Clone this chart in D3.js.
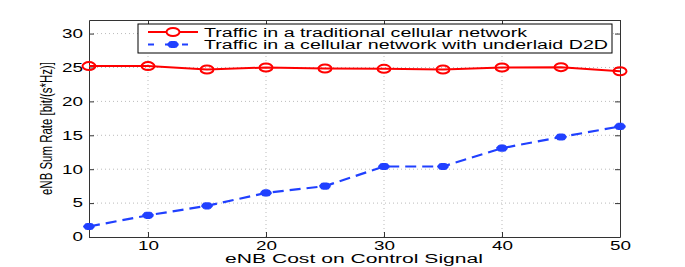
<!DOCTYPE html>
<html>
<head>
<meta charset="utf-8">
<script src="https://cdn.jsdelivr.net/npm/d3@7"></script>
<style>
  body { margin: 0; background: #fff; }
  text { font-family: "Liberation Sans", Arial, sans-serif; fill: #000; }
</style>
</head>
<body>
<svg id="chart" width="685" height="267"></svg>
<script>
var costs = [5, 10, 15, 20, 25, 30, 35, 40, 45, 50];
var traditional = [25.2, 25.2, 24.7, 25.0, 24.85, 24.8, 24.7, 25.0, 25.05, 24.45];
var underlaid = [1.55, 3.2, 4.6, 6.5, 7.5, 10.4, 10.4, 13.1, 14.75, 16.3];
var xTicks = [10, 20, 30, 40, 50];
var yTicks = [0, 5, 10, 15, 20, 25, 30];
var seriesNames = ['Traffic in a traditional cellular network',
                   'Traffic in a cellular network with underlaid D2D'];

var svg = d3.select('#chart');
// plot box (window.top is read-only, so own names)
var pLeft = 89, pRight = 620, pTop = 20, pBottom = 237;

var x = d3.scaleLinear().domain([5, 50]).range([pLeft, pRight]);
var y = d3.scaleLinear().domain([0, 32]).range([pBottom, pTop]);

// grid (dotted)
svg.append('g')
  .selectAll('line')
  .data(xTicks.filter(d => d < 50))
  .enter().append('line')
    .attr('x1', d => x(d)).attr('x2', d => x(d))
    .attr('y1', pTop).attr('y2', pBottom)
    .attr('stroke', '#bbb').attr('stroke-dasharray', '1,3');
svg.append('g')
  .selectAll('line')
  .data(yTicks.filter(d => d > 0))
  .enter().append('line')
    .attr('x1', pLeft).attr('x2', pRight)
    .attr('y1', d => y(d)).attr('y2', d => y(d))
    .attr('stroke', '#bbb').attr('stroke-dasharray', '1,3');

// axes with inward ticks
svg.append('g')
  .attr('transform', `translate(0,${pBottom})`)
  .call(d3.axisBottom(x).tickValues(xTicks).tickSizeInner(-5).tickSizeOuter(0).tickPadding(4));
svg.append('g')
  .attr('transform', `translate(0,${pTop})`)
  .call(d3.axisTop(x).tickValues(xTicks).tickSizeInner(-5).tickSizeOuter(0).tickFormat(''));
svg.append('g')
  .attr('transform', `translate(${pLeft},0)`)
  .call(d3.axisLeft(y).tickValues(yTicks).tickSizeInner(-5).tickSizeOuter(0).tickPadding(6));
svg.append('g')
  .attr('transform', `translate(${pRight},0)`)
  .call(d3.axisRight(y).tickValues(yTicks).tickSizeInner(-5).tickSizeOuter(0).tickFormat(''));

svg.selectAll('.domain').attr('stroke', '#333').attr('stroke-width', 1);
svg.selectAll('.tick line').attr('stroke', '#333');
svg.selectAll('.tick text')
  .style('font-size', '12px')
  .attr('fill', '#000')
  .attr('textLength', function() { return this.textContent.length * 10.5; })
  .attr('lengthAdjust', 'spacingAndGlyphs');

// axis labels
svg.append('text')
  .attr('x', 354)
  .attr('y', 262.5)
  .attr('text-anchor', 'middle')
  .style('font-size', '12.5px')
  .attr('textLength', 258).attr('lengthAdjust', 'spacingAndGlyphs')
  .text('eNB Cost on Control Signal');

svg.append('text')
  .attr('transform', 'translate(52,128.5) rotate(-90)')
  .attr('text-anchor', 'middle')
  .style('font-size', '16px')
  .attr('textLength', 133).attr('lengthAdjust', 'spacingAndGlyphs')
  .text('eNB Sum Rate [bit/(s*Hz)]');

var line = d3.line().x((d, i) => x(costs[i])).y(d => y(d));

// red series
svg.append('path')
  .datum(traditional)
  .attr('d', line)
  .attr('fill', 'none').attr('stroke', '#f00').attr('stroke-width', 2);
svg.append('g')
  .selectAll('ellipse')
  .data(traditional)
  .enter().append('ellipse')
    .attr('cx', (d, i) => x(costs[i])).attr('cy', d => y(d))
    .attr('rx', 6.5).attr('ry', 4)
    .attr('fill', 'none').attr('stroke', '#f00').attr('stroke-width', 2);

// blue series
var blue = '#2040ff';
svg.append('path')
  .datum(underlaid)
  .attr('d', line)
  .attr('fill', 'none').attr('stroke', blue).attr('stroke-width', 2.2)
  .attr('stroke-dasharray', '11,6');
var star = d3.symbol().type(d3.symbolAsterisk).size(50);
svg.append('g')
  .selectAll('path')
  .data(underlaid)
  .enter().append('path')
    .attr('d', star)
    .attr('transform', (d, i) => `translate(${x(costs[i])},${y(d)}) scale(1.3,0.85)`)
    .attr('fill', 'none').attr('stroke', blue).attr('stroke-width', 4);

// legend
var lg = svg.append('g');
lg.append('rect')
  .attr('x', 138).attr('y', 24).attr('width', 474).attr('height', 29)
  .attr('fill', '#fff').attr('stroke', '#000').attr('stroke-width', 1);
var rows = [32, 44.5];
lg.append('line')
  .attr('x1', 148).attr('x2', 198).attr('y1', rows[0]).attr('y2', rows[0])
  .attr('stroke', '#f00').attr('stroke-width', 2);
lg.append('ellipse')
  .attr('cx', 173).attr('cy', rows[0]).attr('rx', 6.5).attr('ry', 4)
  .attr('fill', '#fff').attr('stroke', '#f00').attr('stroke-width', 2);
lg.append('line')
  .attr('x1', 148).attr('x2', 198).attr('y1', rows[1]).attr('y2', rows[1])
  .attr('stroke', blue).attr('stroke-width', 2.2).attr('stroke-dasharray', '6,11');
lg.append('path')
  .attr('d', star)
  .attr('transform', `translate(173,${rows[1]}) scale(1.3,0.85)`)
  .attr('fill', 'none').attr('stroke', blue).attr('stroke-width', 4);
lg.selectAll('text.lbl')
  .data(seriesNames)
  .enter().append('text')
    .attr('class', 'lbl')
    .attr('x', 204).attr('y', (d, i) => rows[i] + 4.5)
    .style('font-size', '12.5px')
    .attr('textLength', (d, i) => i === 0 ? 323 : 404)
    .attr('lengthAdjust', 'spacingAndGlyphs')
    .text(d => d);
</script>
</body>
</html>
